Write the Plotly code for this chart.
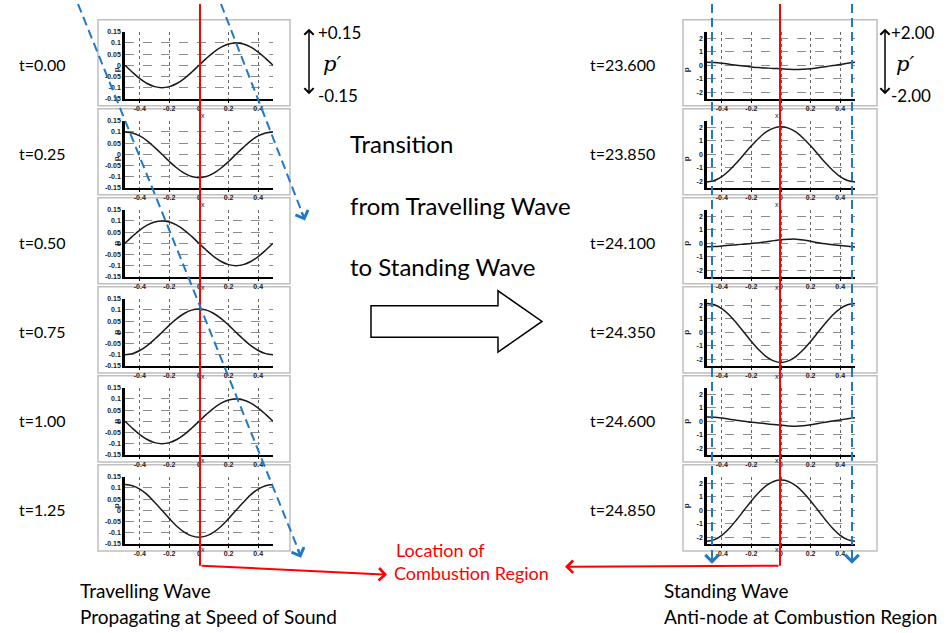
import plotly.graph_objects as go

W, H = 949, 633

# ---------------- data ----------------
X_POS = [-0.5, -0.45, -0.4, -0.35, -0.3, -0.25, -0.2, -0.15, -0.1, -0.05, 0.0,
         0.05, 0.1, 0.15, 0.2, 0.25, 0.3, 0.35, 0.4, 0.45, 0.5]

LEFT_LABELS = ["t=0.00", "t=0.25", "t=0.50", "t=0.75", "t=1.00", "t=1.25"]
RIGHT_LABELS = ["t=23.600", "t=23.850", "t=24.100", "t=24.350", "t=24.600", "t=24.850"]

P_T000 = [0, -0.031, -0.059, -0.081, -0.095, -0.100, -0.095, -0.081, -0.059, -0.031, 0,
          0.031, 0.059, 0.081, 0.095, 0.100, 0.095, 0.081, 0.059, 0.031, 0]
P_T025 = [0.100, 0.095, 0.082, 0.060, 0.031, 0, -0.032, -0.061, -0.084, -0.099, -0.104,
          -0.099, -0.084, -0.061, -0.032, 0, 0.031, 0.060, 0.082, 0.095, 0.100]
P_T050 = [0, 0.031, 0.059, 0.081, 0.095, 0.100, 0.095, 0.081, 0.059, 0.031, 0,
          -0.031, -0.059, -0.081, -0.095, -0.100, -0.095, -0.081, -0.059, -0.031, 0]
P_T075 = [-0.100, -0.095, -0.081, -0.059, -0.031, 0, 0.032, 0.061, 0.084, 0.099, 0.104,
          0.099, 0.084, 0.061, 0.032, 0, -0.031, -0.059, -0.081, -0.095, -0.100]
P_T100 = [0, -0.031, -0.059, -0.081, -0.095, -0.100, -0.095, -0.081, -0.059, -0.031, 0,
          0.031, 0.059, 0.081, 0.095, 0.100, 0.095, 0.081, 0.059, 0.031, 0]
P_T125 = [0.115, 0.110, 0.095, 0.070, 0.036, 0, -0.037, -0.071, -0.097, -0.114, -0.120,
          -0.114, -0.097, -0.071, -0.037, 0, 0.036, 0.070, 0.095, 0.110, 0.115]

S_23600 = [0.22, 0.20, 0.15, 0.08, 0.00, -0.06, -0.12, -0.17, -0.20, -0.23, -0.25,
           -0.29, -0.31, -0.29, -0.25, -0.18, -0.10, -0.02, 0.06, 0.15, 0.22]
S_23850 = [-2.05, -1.95, -1.66, -1.20, -0.63, 0, 0.63, 1.20, 1.66, 1.95, 2.05,
           1.95, 1.66, 1.20, 0.63, 0, -0.63, -1.20, -1.66, -1.95, -2.05]
S_24100 = [-0.25, -0.24, -0.20, -0.15, -0.10, -0.06, -0.02, 0.05, 0.12, 0.20, 0.27,
           0.30, 0.31, 0.25, 0.15, 0.05, -0.04, -0.11, -0.17, -0.22, -0.27]
S_24350 = [2.15, 2.05, 1.76, 1.29, 0.68, 0, -0.68, -1.30, -1.80, -2.12, -2.25,
           -2.12, -1.80, -1.30, -0.68, 0, 0.68, 1.29, 1.76, 2.05, 2.15]
S_24600 = [0.32, 0.30, 0.24, 0.16, 0.08, 0.00, -0.06, -0.12, -0.18, -0.24, -0.30,
           -0.34, -0.36, -0.33, -0.25, -0.16, -0.07, 0.02, 0.10, 0.20, 0.27]
S_24850 = [-2.30, -2.18, -1.86, -1.35, -0.70, 0, 0.70, 1.33, 1.83, 2.15, 2.25,
           2.15, 1.83, 1.33, 0.70, 0, -0.70, -1.35, -1.86, -2.18, -2.30]

LEFT_SERIES = [P_T000, P_T025, P_T050, P_T075, P_T100, P_T125]
RIGHT_SERIES = [S_23600, S_23850, S_24100, S_24350, S_24600, S_24850]

X_TICKS = [-0.4, -0.2, 0, 0.2, 0.4]
X_TICKTEXT = ["-0.4", "-0.2", "0", "0.2", "0.4"]
LEFT_YTICKS = [-0.15, -0.1, -0.05, 0, 0.05, 0.1, 0.15]
LEFT_YTICKTEXT = ["-0.15", "-0.1", "-0.05", "0", "0.05", "0.1", "0.15"]
RIGHT_YTICKS = [-2, -1, 0, 1, 2]
RIGHT_YTICKTEXT = ["-2", "-1", "0", "1", "2"]

# ---------------- layout helpers ----------------
def px(x):
    return x / W


def py(y):
    return 1 - y / H


PLOT_TOPS = [28, 118, 208, 298, 388, 478]
PLOT_H = 68
COLS = {
    "left": dict(x0=125, x1=273, bx0=98, bx1=290, yr=[-0.15, 0.15],
                 yt=LEFT_YTICKS, ytt=LEFT_YTICKTEXT, label_x=42, p_x=110, zero_x=199),
    "right": dict(x0=707, x1=855, bx0=683, bx1=877, yr=[-2.5, 2.5],
                  yt=RIGHT_YTICKS, ytt=RIGHT_YTICKTEXT, label_x=622, p_x=693, zero_x=781),
}

fig = go.Figure()
layout_axes = {}
shapes = []
annotations = []

TXT_FONT = "Lato, Open Sans, sans-serif"
TICK_FONT = dict(family="Liberation Sans, Arial", size=7, color="#222", weight="bold")
GRID = "#666666"

k = 0
for side, series_list, labels in (("left", LEFT_SERIES, LEFT_LABELS),
                                  ("right", RIGHT_SERIES, RIGHT_LABELS)):
    c = COLS[side]
    for i, vals in enumerate(series_list):
        k += 1
        top = PLOT_TOPS[i]
        bot = top + PLOT_H
        xa = "x" if k == 1 else f"x{k}"
        ya = "y" if k == 1 else f"y{k}"
        # frame box
        shapes.append(dict(type="rect", xref="paper", yref="paper",
                           x0=px(c["bx0"]), x1=px(c["bx1"]), y0=py(bot + 7), y1=py(top - 12),
                           line=dict(color="#bfbfbf", width=1.5), fillcolor="white", layer="below"))
        fig.add_trace(go.Scatter(x=X_POS, y=vals, mode="lines",
                                 line=dict(color="#1a1a1a", width=1.5, shape="spline"),
                                 xaxis=xa, yaxis=ya, showlegend=False, hoverinfo="skip"))
        layout_axes["xaxis" if k == 1 else f"xaxis{k}"] = dict(
            domain=[px(c["x0"]), px(c["x1"])], anchor=ya, range=[-0.5, 0.5],
            tickvals=X_TICKS, ticktext=X_TICKTEXT, tickfont=TICK_FONT,
            showgrid=True, gridcolor=GRID, griddash="dot", gridwidth=1,
            zeroline=False, showline=True, linecolor="black", linewidth=1.5,
            ticks="outside", ticklen=2, tickcolor="black", fixedrange=True)
        layout_axes["yaxis" if k == 1 else f"yaxis{k}"] = dict(
            domain=[py(bot), py(top)], anchor=xa, range=c["yr"],
            tickvals=c["yt"], ticktext=c["ytt"], tickfont=TICK_FONT,
            showgrid=True, gridcolor="#8c8c8c", griddash="dash", gridwidth=1,
            zeroline=False, showline=True, linecolor="black", linewidth=2.5,
            ticks="", fixedrange=True)
        # time label
        annotations.append(dict(xref="paper", yref="paper", x=px(c["label_x"]), y=py(top + 33),
                                text=labels[i], showarrow=False, xanchor="center", yanchor="middle",
                                font=dict(family=TXT_FONT, size=16, color="black")))
        # axis titles
        annotations.append(dict(xref="paper", yref="paper", x=px(c["p_x"]), y=py(top + 34),
                                text="<b>p</b>", showarrow=False, textangle=-90,
                                font=dict(family="Liberation Sans", size=8, color="#222")))
        annotations.append(dict(xref="paper", yref="paper", x=px(c["zero_x"]), y=py(bot + 11),
                                text="x", showarrow=False,
                                font=dict(family="Liberation Sans", size=7, color="#222")))

# ---------------- decorations ----------------
RED = "#ff0000"
BLUE = "#1f78c8"
DASH = "9px,5px"

# red vertical lines (location of combustion region)
for xv in (200, 780):
    shapes.append(dict(type="line", xref="paper", yref="paper", x0=px(xv), x1=px(xv),
                       y0=py(0), y1=py(568), line=dict(color=RED, width=2)))

# blue dashed travelling lines
shapes.append(dict(type="line", xref="paper", yref="paper", x0=px(78), y0=py(0),
                   x1=px(300), y1=py(556), line=dict(color=BLUE, width=2, dash=DASH)))
shapes.append(dict(type="line", xref="paper", yref="paper", x0=px(221), y0=py(0),
                   x1=px(304), y1=py(216), line=dict(color=BLUE, width=2, dash=DASH)))
# blue dashed standing lines
for xv in (712, 852):
    shapes.append(dict(type="line", xref="paper", yref="paper", x0=px(xv), x1=px(xv),
                       y0=py(0), y1=py(562), line=dict(color=BLUE, width=2, dash=DASH)))

# big outline arrow
pts = [(371, 305), (498, 305), (498, 290), (542, 321), (498, 352), (498, 337), (371, 337)]
path = "M " + " L ".join(f"{px(a):.5f},{py(b):.5f}" for a, b in pts) + " Z"
shapes.append(dict(type="path", xref="paper", yref="paper", path=path,
                   line=dict(color="black", width=1.5), fillcolor="white"))

# arrowheads for blue lines
for (hx, hy, ax, ay) in ((301, 560, -4, -10), (305, 219, -4, -10), (712, 566, 0, -10), (852, 566, 0, -10)):
    annotations.append(dict(xref="paper", yref="paper", x=px(hx), y=py(hy), ax=ax, ay=ay,
                            text="", showarrow=True, arrowhead=4, arrowsize=1.3, arrowwidth=2,
                            arrowcolor=BLUE, standoff=0))

# red arrows to label
annotations.append(dict(xref="paper", yref="paper", x=px(387), y=py(577), ax=-187, ay=-9,
                        text="", showarrow=True, arrowhead=4, arrowsize=1.2, arrowwidth=2,
                        arrowcolor=RED, standoff=0))
annotations.append(dict(xref="paper", yref="paper", x=px(565), y=py(569), ax=215, ay=-1,
                        text="", showarrow=True, arrowhead=4, arrowsize=1.2, arrowwidth=2,
                        arrowcolor=RED, standoff=0))

# scale double arrows
for xa_ in (309, 885):
    annotations.append(dict(xref="paper", yref="paper", x=px(xa_), y=py(25), ax=0, ay=67,
                            text="", showarrow=True, arrowhead=4, startarrowhead=4,
                            arrowside="end+start", arrowsize=1.2, arrowwidth=1.5,
                            arrowcolor="black", standoff=0, startstandoff=0))


def txt(x, y, s, size=16, color="black", xanchor="left", family=TXT_FONT):
    annotations.append(dict(xref="paper", yref="paper", x=px(x), y=py(y), text=s,
                            showarrow=False, xanchor=xanchor, yanchor="middle",
                            font=dict(family=family, size=size, color=color)))


txt(316, 29, "+0.15", 17)
txt(316, 93, "-0.15", 17)
txt(321, 61, "<i>p′</i>", 21, family="DejaVu Serif")
txt(889, 29, "+2.00", 17)
txt(889, 93, "-2.00", 17)
txt(894, 61, "<i>p′</i>", 21, family="DejaVu Serif")

txt(348, 141, "Transition", 24)
txt(348, 204, "from Travelling Wave", 24)
txt(348, 265, "to Standing Wave", 24)

txt(394, 552, "Location of", 18, RED, "left")
txt(392, 575, "Combustion Region", 18, RED, "left")

txt(78, 593, "Travelling Wave", 19)
txt(78, 619, "Propagating at Speed of Sound", 19)
txt(662, 593, "Standing Wave", 19)
txt(662, 619, "Anti-node at Combustion Region", 19)

fig.update_layout(width=W, height=H, margin=dict(l=0, r=0, t=0, b=0),
                  paper_bgcolor="white", plot_bgcolor="white",
                  shapes=shapes, annotations=annotations, showlegend=False, **layout_axes)

fig.write_html("out.html", config={"displayModeBar": False},
               post_script="document.body.style.margin='0';")
